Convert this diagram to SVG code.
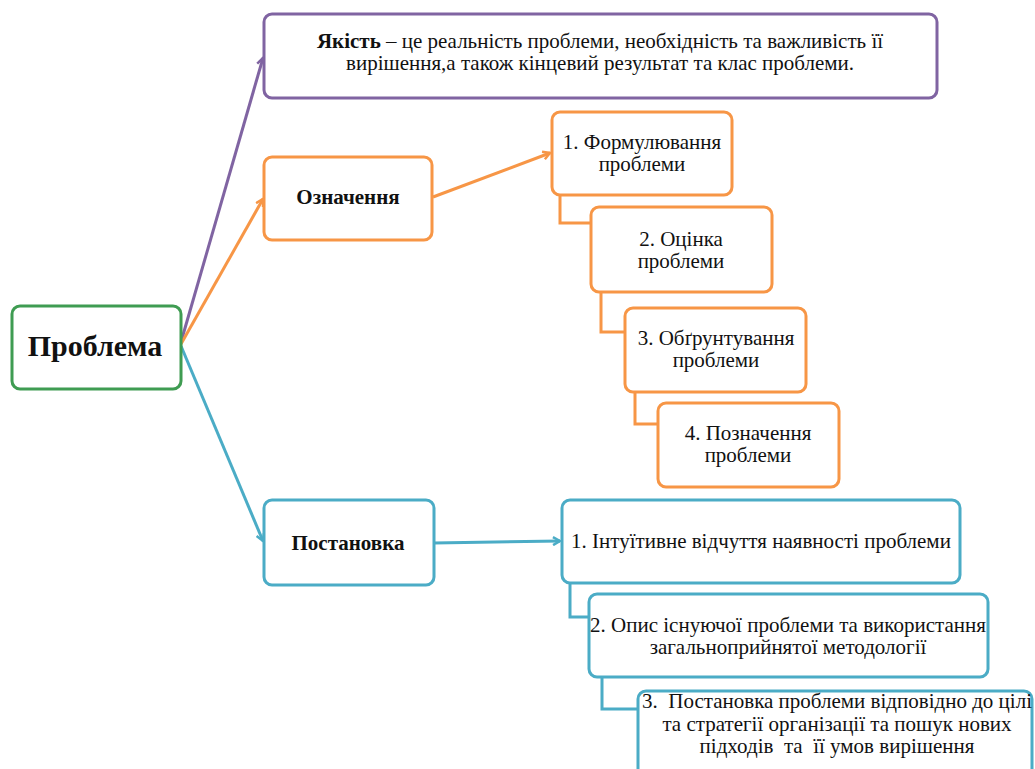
<svg xmlns="http://www.w3.org/2000/svg" width="1035" height="769" viewBox="0 0 1035 769">
<style>
.box{fill:#fff;stroke-width:3}
.p{stroke:#8064a2}.o{stroke:#f79646}.b{stroke:#4bacc6}.g{stroke:#3f9c52}
.ln{fill:none;stroke-width:3}
</style>
<defs>
<marker id="ap" markerWidth="10" markerHeight="10" refX="8" refY="5" orient="auto" markerUnits="userSpaceOnUse"><path d="M1,1 L8,5 L1,9" fill="none" stroke="#8064a2" stroke-width="2.5"/></marker>
<marker id="ao" markerWidth="10" markerHeight="10" refX="8" refY="5" orient="auto" markerUnits="userSpaceOnUse"><path d="M1,1 L8,5 L1,9" fill="none" stroke="#f79646" stroke-width="2.5"/></marker>
<marker id="ab" markerWidth="10" markerHeight="10" refX="8" refY="5" orient="auto" markerUnits="userSpaceOnUse"><path d="M1,1 L8,5 L1,9" fill="none" stroke="#4bacc6" stroke-width="2.5"/></marker>
</defs>
<rect width="1035" height="769" fill="#fff"/>
<g id="connectors">
<path class="ln p" d="M181,342 L263,58" marker-end="url(#ap)"/>
<path class="ln o" d="M181,344 L263,199" marker-end="url(#ao)"/>
<path class="ln b" d="M181,346 L263,541" marker-end="url(#ab)"/>
<path class="ln o" d="M433,197 L550,153" marker-end="url(#ao)"/>
<path class="ln b" d="M434,543 L560,541" marker-end="url(#ab)"/>
<path class="ln o" d="M560,195 V223 H591"/>
<path class="ln o" d="M601,292 V332 H625"/>
<path class="ln o" d="M635,392 V424 H658"/>
<path class="ln b" d="M570,583 V617 H589"/>
<path class="ln b" d="M602,677 V709 H638"/>
</g>
<g fill="#111" text-anchor="middle" font-size="21">
<g id="n-problem"><rect class="box g" x="12" y="306" width="169" height="83" rx="8"/><text font-family="Liberation Serif" font-size="30" font-weight="bold" x="95" y="356">Проблема</text></g>
<g id="n-quality"><rect class="box p" x="264" y="14" width="673" height="84" rx="8"/>
<text font-family="Liberation Serif" x="600" y="48"><tspan font-weight="bold">Якість</tspan> – це реальність проблеми, необхідність та важливість її</text>
<text font-family="Liberation Serif" x="600" y="70">вирішення,а також кінцевий результат та клас проблеми.</text></g>
<g id="n-oznach"><rect class="box o" x="264" y="157" width="168" height="83" rx="8"/><text font-family="Liberation Serif" font-weight="bold" x="348" y="204">Означення</text></g>
<g id="n-postan"><rect class="box b" x="264" y="500" width="170" height="85" rx="8"/><text font-family="Liberation Serif" font-weight="bold" x="348" y="550">Постановка</text></g>
<g id="n-o1"><rect class="box o" x="552" y="112" width="180" height="83" rx="8"/><text font-family="Liberation Serif" x="642" y="149">1. Формулювання</text><text font-family="Liberation Serif" x="642" y="171">проблеми</text></g>
<g id="n-o2"><rect class="box o" x="591" y="207" width="181" height="85" rx="8"/><text font-family="Liberation Serif" x="681" y="246">2. Оцінка</text><text font-family="Liberation Serif" x="681" y="268">проблеми</text></g>
<g id="n-o3"><rect class="box o" x="625" y="308" width="181" height="84" rx="8"/><text font-family="Liberation Serif" x="716" y="345">3. Обґрунтування</text><text font-family="Liberation Serif" x="716" y="367">проблеми</text></g>
<g id="n-o4"><rect class="box o" x="658" y="403" width="181" height="84" rx="8"/><text font-family="Liberation Serif" x="748" y="440">4. Позначення</text><text font-family="Liberation Serif" x="748" y="462">проблеми</text></g>
<g id="n-b1"><rect class="box b" x="562" y="500" width="398" height="83" rx="8"/><text font-family="Liberation Serif" x="761" y="548">1. Інтуїтивне відчуття наявності проблеми</text></g>
<g id="n-b2"><rect class="box b" x="589" y="594" width="399" height="83" rx="8"/><text font-family="Liberation Serif" x="788" y="632">2. Опис існуючої проблеми та використання</text><text font-family="Liberation Serif" x="788" y="654">загальноприйнятої методології</text></g>
<g id="n-b3"><rect class="box b" x="638" y="691" width="394" height="90" rx="8"/><text font-family="Liberation Serif" x="837" y="708" xml:space="preserve">3.  Постановка проблеми відповідно до цілі</text><text font-family="Liberation Serif" x="837" y="731">та стратегії організації та пошук нових</text><text font-family="Liberation Serif" x="837" y="753" xml:space="preserve">підходів  та  її умов вирішення</text></g>
</g>
</svg>
